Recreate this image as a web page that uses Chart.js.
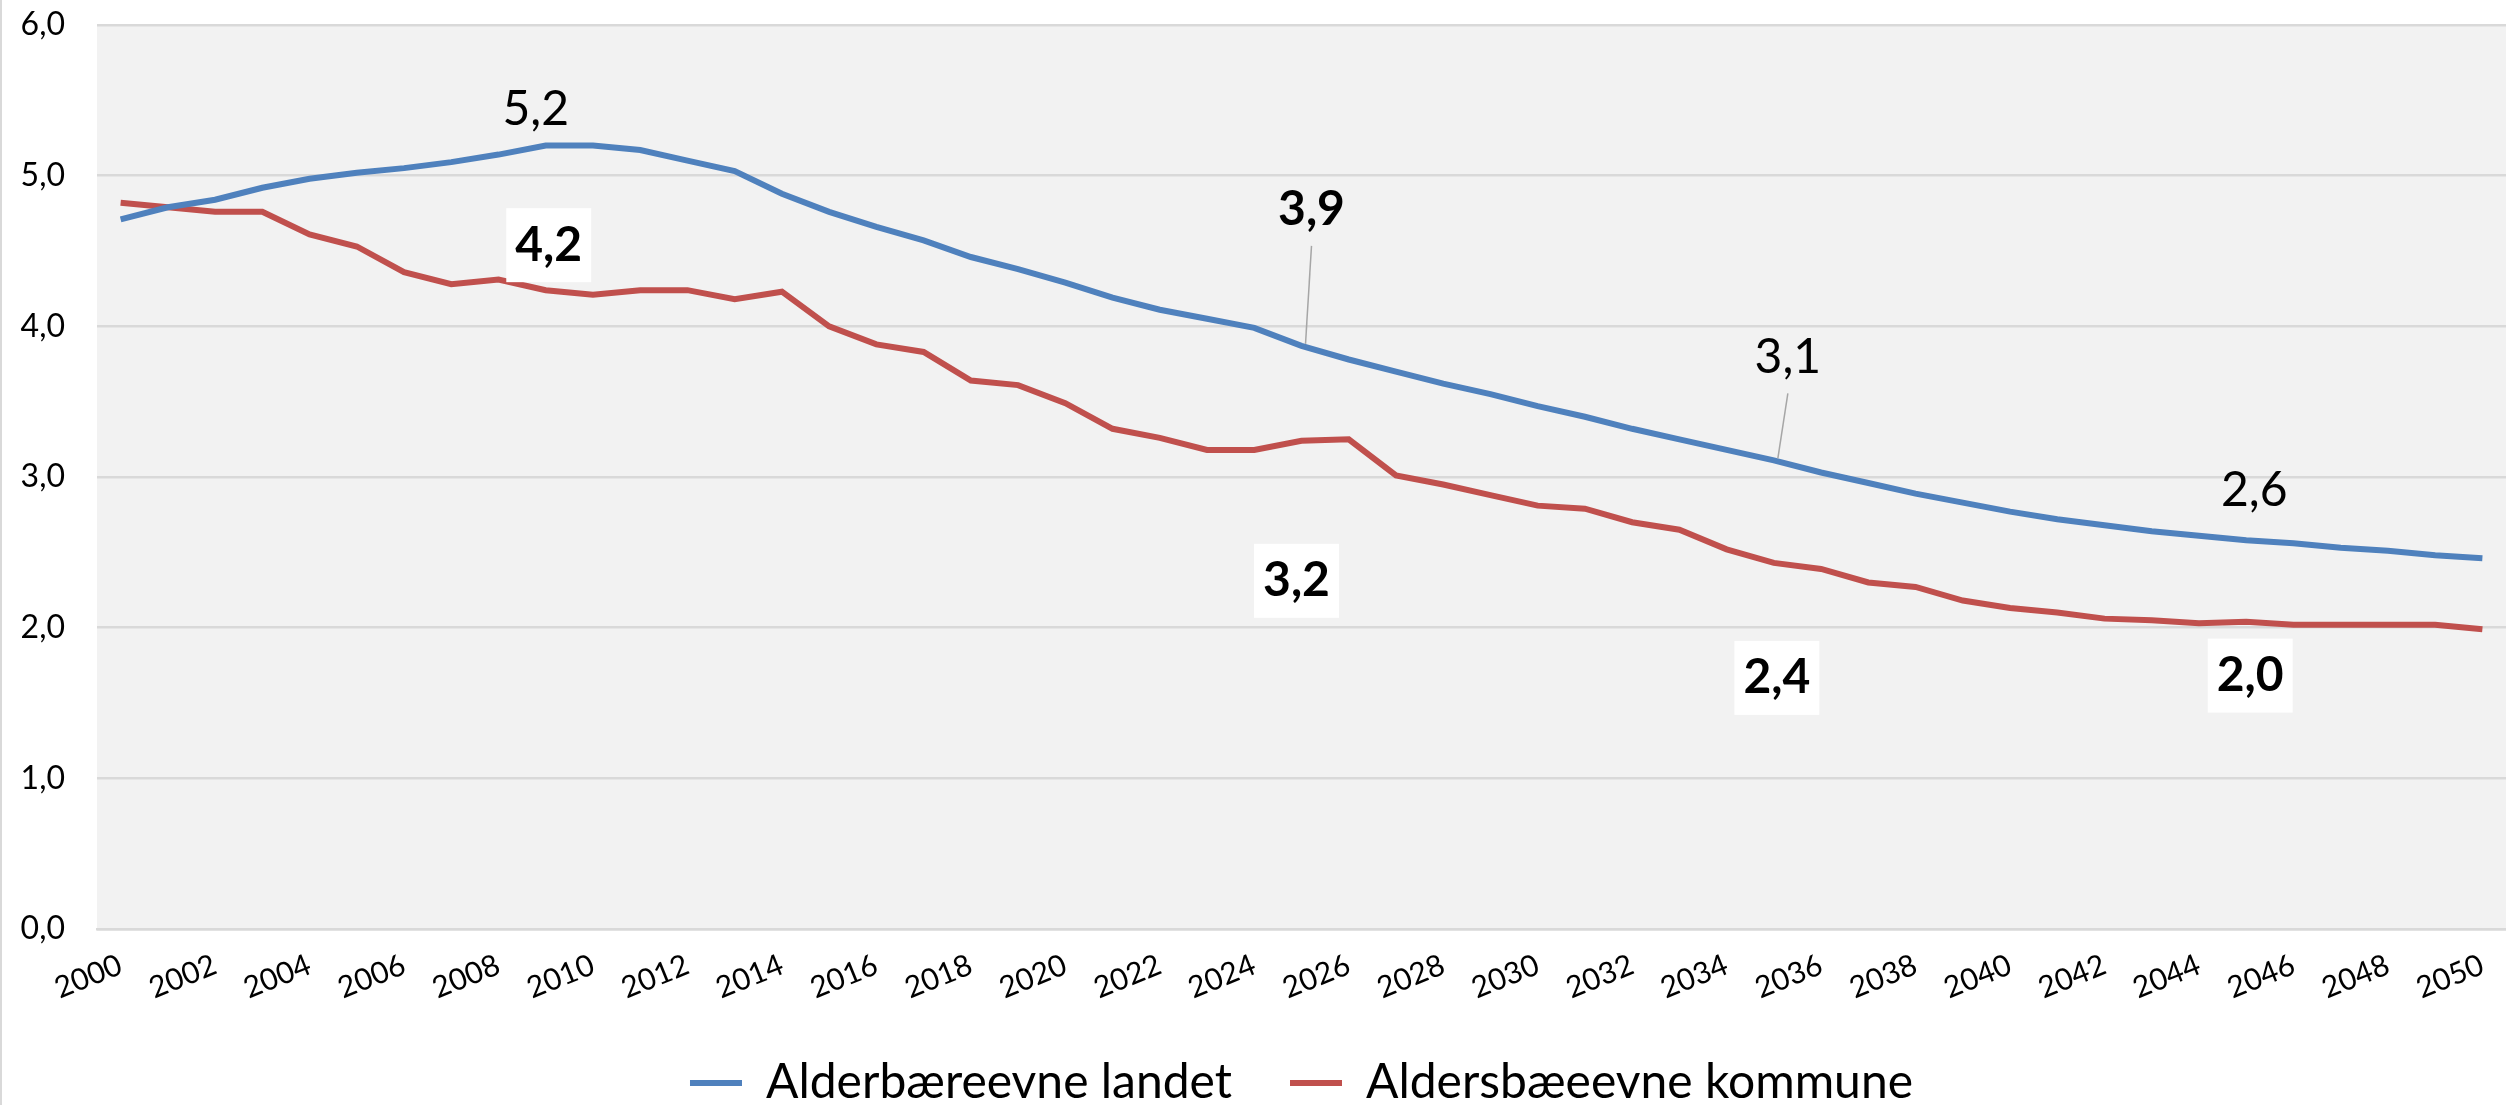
<!DOCTYPE html>
<html>
<head>
<meta charset="utf-8">
<script src="https://cdn.jsdelivr.net/npm/chart.js@4/dist/chart.umd.min.js"></script>
<style>
  html, body { margin: 0; padding: 0; background: #fff; }
  #wrap { width: 2506px; height: 1105px; }
</style>
</head>
<body>
<div id="wrap"><canvas id="chart" width="2506" height="1105"></canvas></div>
<script>
// years on the x axis
const years = [];
for (let y = 2000; y <= 2050; y++) years.push(String(y));

const seriesNames = ['Alderbæreevne landet', 'Aldersbæeevne kommune'];

const landet = [
  4.71, 4.79, 4.84, 4.92, 4.98, 5.02, 5.05, 5.09, 5.14, 5.20,
  5.20, 5.17, 5.10, 5.03, 4.88, 4.76, 4.66, 4.57, 4.46, 4.38,
  4.29, 4.19, 4.11, 4.05, 3.99, 3.87, 3.78, 3.70, 3.62, 3.55,
  3.47, 3.40, 3.32, 3.25, 3.18, 3.11, 3.03, 2.96, 2.89, 2.83,
  2.77, 2.72, 2.68, 2.64, 2.61, 2.58, 2.56, 2.53, 2.51, 2.48,
  2.46,
];

const kommune = [
  4.82, 4.79, 4.76, 4.76, 4.61, 4.53, 4.36, 4.28, 4.31, 4.24,
  4.21, 4.24, 4.24, 4.18, 4.23, 4.00, 3.88, 3.83, 3.64, 3.61,
  3.49, 3.32, 3.26, 3.18, 3.18, 3.24, 3.25, 3.01, 2.95, 2.88,
  2.81, 2.79, 2.70, 2.65, 2.52, 2.43, 2.39, 2.30, 2.27, 2.18,
  2.13, 2.10, 2.06, 2.05, 2.03, 2.04, 2.02, 2.02, 2.02, 2.02,
  1.99,
];

// years that carry a value label
const labelYears = ['2009', '2025', '2035', '2045'];

const yTicks = [0, 1, 2, 3, 4, 5, 6];

const FONT = 'Lato';
const fmt = (v) => v.toFixed(1).replace('.', ',');

// label look per dataset, same order as labelYears
// dx/dy = offset of label centre from the point, leader = draw thin line to point
const labelStyles = [
  [
    { dx: -10, dy: -36, bold: false, box: false },
    { dx: 10, dy: -136, bold: true, box: false, leader: true },
    { dx: 14, dy: -103, bold: false, box: false, leader: true },
    { dx: 8, dy: -50, bold: false, box: false },
  ],
  [
    { dx: 3, dy: -45, bold: true, box: true },
    { dx: -5, dy: 140, bold: true, box: true },
    { dx: 3, dy: 115, bold: true, box: true },
    { dx: 4, dy: 54, bold: true, box: true },
  ],
];

const plotBg = {
  id: 'plotBg',
  beforeDraw(chart) {
    const { ctx, chartArea: a } = chart;
    ctx.save();
    ctx.fillStyle = '#f2f2f2';
    ctx.fillRect(a.left, a.top, a.right - a.left, a.bottom - a.top);
    // thin frame line on the left edge
    ctx.fillStyle = '#d9d9d9';
    ctx.fillRect(0, 0, 2, chart.height);
    ctx.restore();
  },
};

const valueLabels = {
  id: 'valueLabels',
  afterDatasetsDraw(chart) {
    const { ctx } = chart;
    ctx.save();
    chart.data.datasets.forEach((ds, di) => {
      const meta = chart.getDatasetMeta(di);
      labelYears.forEach((yr, li) => {
        const idx = years.indexOf(yr);
        const pt = meta.data[idx];
        const st = labelStyles[di][li];
        const cx = pt.x + st.dx;
        const cy = pt.y + st.dy;
        const text = fmt(ds.data[idx]);
        ctx.font = `${st.bold ? 'bold ' : ''}48px ${FONT}`;
        const w = ctx.measureText(text).width;
        if (st.box) {
          ctx.fillStyle = '#ffffff';
          ctx.fillRect(cx - w / 2 - 9, cy - 37, w + 18, 74);
        }
        if (st.leader) {
          ctx.strokeStyle = '#a6a6a6';
          ctx.lineWidth = 1.5;
          ctx.beginPath();
          ctx.moveTo(cx, cy + 36);
          ctx.lineTo(pt.x + 4, pt.y - 2);
          ctx.stroke();
        }
        ctx.fillStyle = '#000';
        ctx.textAlign = 'center';
        ctx.textBaseline = 'middle';
        ctx.fillText(text, cx, cy);
      });
    });
    ctx.restore();
  },
};

new Chart(document.getElementById('chart').getContext('2d'), {
  type: 'line',
  data: {
    labels: years,
    datasets: [
      {
        label: seriesNames[0],
        data: landet,
        borderColor: '#4f81bd',
        backgroundColor: '#4f81bd',
        borderWidth: 6,
        pointRadius: 0,
        tension: 0,
      },
      {
        label: seriesNames[1],
        data: kommune,
        borderColor: '#c0504d',
        backgroundColor: '#c0504d',
        borderWidth: 6,
        pointRadius: 0,
        tension: 0,
      },
    ],
  },
  options: {
    responsive: false,
    animation: false,
    devicePixelRatio: 1,
    layout: {
      padding: { left: 2, top: 25, right: 0, bottom: -12 },
    },
    scales: {
      x: {
        offset: true,
        grid: { display: false, drawTicks: false },
        border: { display: true, color: '#d9d9d9', width: 2.5 },
        ticks: {
          autoSkip: false,
          minRotation: 22,
          maxRotation: 22,
          padding: 18,
          color: '#000',
          font: { family: FONT, size: 30 },
          callback: (val, i) => (i % 2 === 0 ? years[i] : ''),
        },
        afterFit: (scale) => {
          scale.height = 72;
          scale.paddingLeft = 0;
          scale.paddingRight = 0;
        },
      },
      y: {
        min: 0,
        max: 6,
        afterBuildTicks: (scale) => { scale.ticks = yTicks.map((v) => ({ value: v })); },
        grid: { color: '#d9d9d9', lineWidth: 2.5, drawTicks: false },
        border: { display: false },
        ticks: {
          padding: 32,
          color: '#000',
          font: { family: FONT, size: 32 },
          callback: (v) => fmt(v),
        },
        afterFit: (scale) => {
          scale.width = 95;
          scale.paddingTop = 0;
          scale.paddingBottom = 0;
        },
      },
    },
    plugins: {
      legend: {
        position: 'bottom',
        fullSize: false,
        labels: {
          usePointStyle: true,
          pointStyle: 'line',
          pointStyleWidth: 52,
          padding: 58,
          color: '#000',
          font: { family: FONT, size: 48 },
        },
      },
      tooltip: { enabled: false },
    },
  },
  plugins: [plotBg, valueLabels],
});
</script>
</body>
</html>
